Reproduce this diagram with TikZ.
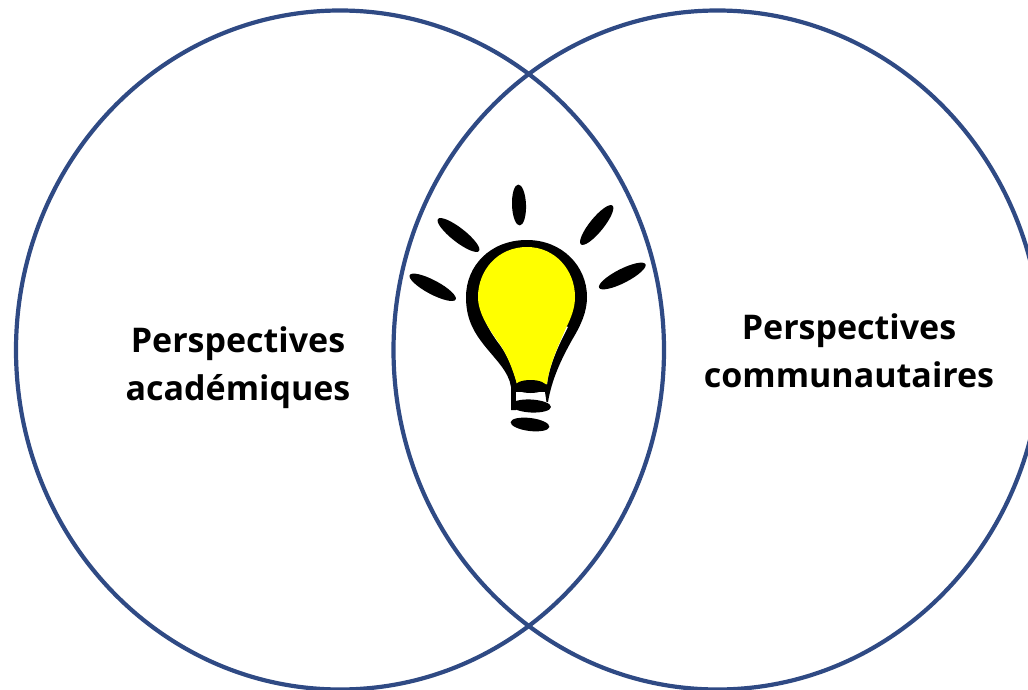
\documentclass[tikz,border=0pt]{standalone}
\usepackage{fontspec}
\setmainfont{Open Sans}
\usetikzlibrary{shapes.geometric}
\definecolor{vennblue}{HTML}{2F4A84}
\definecolor{bulbyellow}{HTML}{FFFF00}

\begin{document}
\begin{tikzpicture}[x=1pt,y=-1pt,
  venn/.style={ellipse,draw=vennblue,line width=4.2pt,minimum width=648,minimum height=679,inner sep=0},
  ray/.style={ellipse,fill=black,minimum width=52,minimum height=14,inner sep=0},
  capring/.style={ellipse,fill=black,minimum height=13,inner sep=0},
  label/.style={align=center,font=\fontsize{34}{48}\selectfont\bfseries}]
  \useasboundingbox (0,0) rectangle (1028,690);
  \clip (0,0) rectangle (1028,690);
  \node[venn] (left) at (340,350) {};
  \node[venn] (right) at (717.5,350) {};
  \node[label] (academic) at (238,368) {Perspectives\\académiques};
  \node[label] (community) at (849,351) {Perspectives\\communautaires};
  % bulb
  \fill[black] (527,240) .. controls (490,240) and (466,266) .. (466,297)
    .. controls (466,318) and (473,331) .. (484,345)
    .. controls (496,360) and (509,372) .. (511,387) -- (511,410) -- (516,410)
    -- (516,392) -- (545,392) -- (546.5,402) -- (548,402)
    .. controls (552,378) and (562,358) .. (572,340)
    .. controls (581,325) and (587,312) .. (587,297)
    .. controls (587,266) and (562,240) .. (527,240) -- cycle;
  \fill[white] (516,392) rectangle (545,402);
  \fill[white] (479,297) .. controls (480,315) and (490,332) .. (500,345)
    .. controls (508,356) and (514,370) .. (517,384) -- (547,384)
    .. controls (549,366) and (558,346) .. (568,327) -- cycle;
  \fill[bulbyellow] (527,247) .. controls (498,247) and (478,270) .. (478,297)
    .. controls (478,314) and (490,330) .. (499,343)
    .. controls (507,354) and (513,370) .. (517,384) -- (547,384)
    .. controls (549,366) and (558,346) .. (566,328)
    .. controls (571,318) and (575,308) .. (575,297)
    .. controls (575,270) and (555,247) .. (527,247) -- cycle;
  \node[capring,minimum width=32] (ring1) at (530.5,386.5) {};
  \node[capring,minimum width=40,rotate=-3] (ring2) at (531,406) {};
  \node[capring,minimum width=39,rotate=-7] (ring3) at (530,424.5) {};
  % rays
  \node[ray,minimum width=41,rotate=92] (ray1) at (519,205) {};
  \node[ray,rotate=-38] (ray2) at (458.5,235) {};
  \node[ray,rotate=-28] (ray3) at (432.7,287.3) {};
  \node[ray,minimum width=50,rotate=51] (ray4) at (596.7,225) {};
  \node[ray,rotate=27] (ray5) at (622.3,276) {};
\end{tikzpicture}
\end{document}
